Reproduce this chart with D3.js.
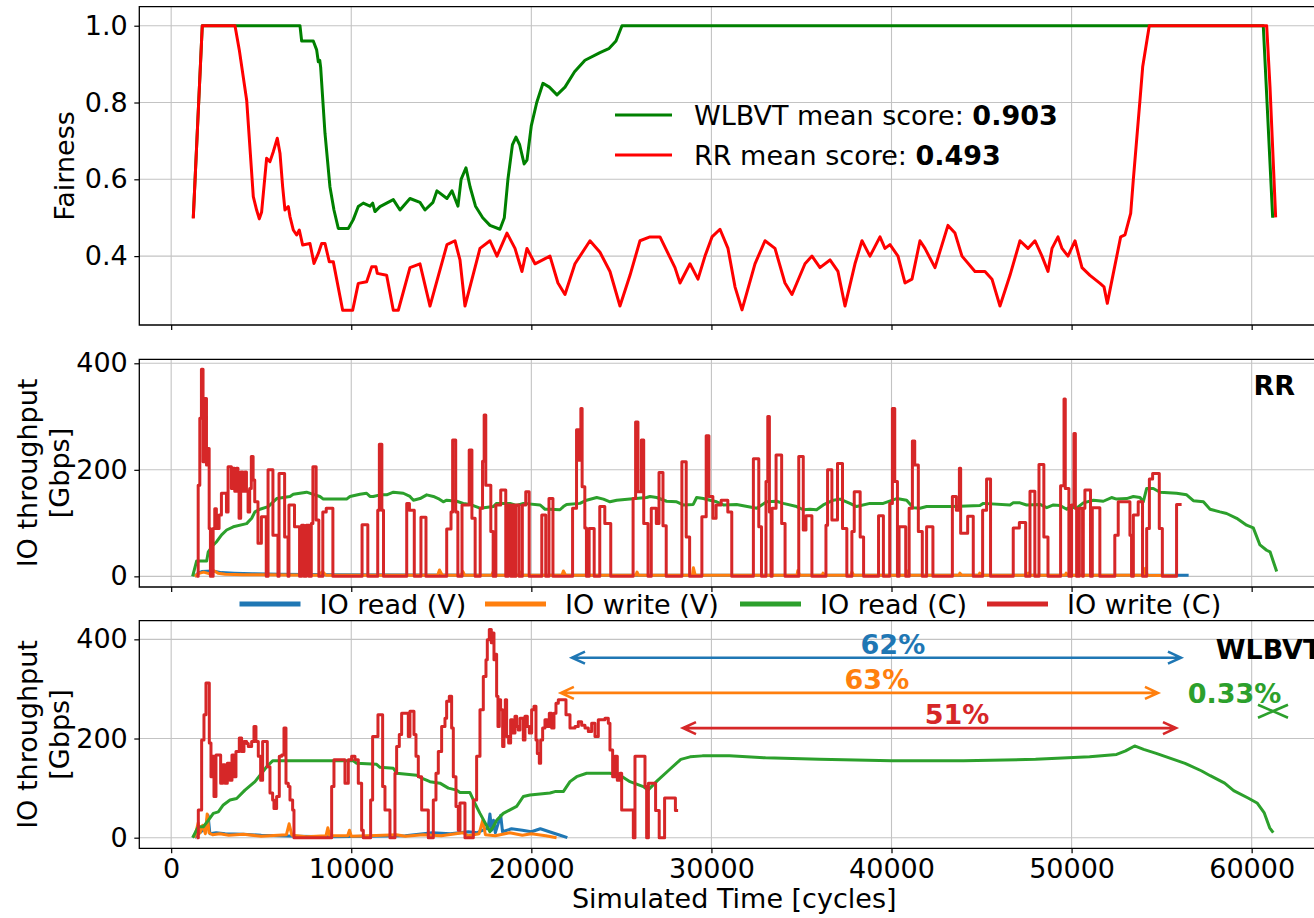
<!DOCTYPE html>
<html>
<head>
<meta charset="utf-8">
<script src="https://cdn.jsdelivr.net/npm/d3@7"></script>
<style>
  body { margin: 0; background: #fff; }
  svg { display: block; font-family: "DejaVu Sans", sans-serif; }
</style>
</head>
<body>
<div id="container"></div>
<script>
// ---------- data ----------
const xTicks = [0, 10000, 20000, 30000, 40000, 50000, 60000];
const fairTicks = [0.4, 0.6, 0.8, 1.0];
const tputTicks = [0, 200, 400];

const fairLabels = ["WLBVT mean score: ", "RR mean score: "];
const fairScores = ["0.903", "0.493"];
const seriesNames = ["IO read (V)", "IO write (V)", "IO read (C)", "IO write (C)"];

// fairness, [cycle, score]
const fairWlbvt = [[1227,0.5],[1727,1.0],[7152,1.0],[7246,0.96],[7891,0.96],[8078,0.937],[8170,0.906],[8250,0.91],[8300,0.892],[8541,0.72],[8818,0.58],[9040,0.52],[9281,0.472],[9836,0.472],[10112,0.495],[10390,0.529],[10668,0.538],[11039,0.53],[11189,0.538],[11317,0.516],[11595,0.529],[11965,0.538],[12335,0.547],[12706,0.52],[13261,0.55],[13816,0.54],[14094,0.52],[14538,0.54],[14760,0.57],[15315,0.55],[15593,0.57],[15926,0.53],[16100,0.6],[16370,0.63],[16600,0.58],[16900,0.53],[17300,0.5],[17703,0.48],[18258,0.47],[18500,0.5],[18700,0.6],[18950,0.69],[19147,0.71],[19350,0.69],[19600,0.64],[19758,0.65],[20000,0.74],[20300,0.80],[20646,0.85],[21000,0.84],[21424,0.82],[21868,0.84],[22400,0.88],[22979,0.91],[23812,0.93],[24300,0.94],[24700,0.96],[25033,1.0],[60645,1.0],[61167,0.5]];

const fairRr = [[1227,0.498],[1727,1.0],[3544,1.0],[3782,0.937],[4193,0.806],[4560,0.555],[4745,0.52],[4894,0.497],[5023,0.515],[5301,0.655],[5486,0.646],[5671,0.672],[5893,0.707],[6042,0.668],[6190,0.581],[6319,0.52],[6504,0.529],[6597,0.503],[6782,0.468],[6967,0.455],[7115,0.468],[7300,0.429],[7708,0.433],[7931,0.381],[8170,0.407],[8357,0.433],[8540,0.433],[8782,0.385],[9004,0.385],[9523,0.259],[10079,0.259],[10390,0.329],[10856,0.333],[11134,0.372],[11372,0.372],[11446,0.355],[11965,0.35],[12335,0.259],[12612,0.259],[13261,0.37],[13816,0.38],[14372,0.27],[15315,0.43],[15760,0.44],[16037,0.39],[16315,0.27],[17148,0.42],[17703,0.44],[18092,0.40],[18647,0.46],[19092,0.42],[19480,0.36],[19758,0.42],[20202,0.38],[21035,0.40],[21479,0.33],[21868,0.30],[22423,0.38],[23256,0.44],[23812,0.41],[24367,0.36],[24922,0.27],[25478,0.35],[26033,0.44],[26588,0.45],[27144,0.45],[27977,0.37],[28255,0.33],[28810,0.38],[29254,0.34],[29643,0.40],[30032,0.45],[30476,0.47],[30920,0.42],[31309,0.32],[31698,0.26],[32419,0.38],[32975,0.44],[33530,0.42],[34085,0.33],[34474,0.30],[35196,0.38],[35585,0.40],[36029,0.37],[36584,0.39],[37028,0.36],[37417,0.27],[37972,0.38],[38361,0.44],[38805,0.40],[39360,0.45],[39638,0.42],[39916,0.43],[40360,0.40],[40748,0.33],[41137,0.34],[41581,0.44],[41859,0.42],[42414,0.37],[43136,0.48],[43525,0.46],[43914,0.40],[44636,0.36],[45191,0.36],[45580,0.34],[46024,0.27],[46579,0.35],[47135,0.44],[47579,0.42],[47968,0.44],[48356,0.40],[48690,0.36],[48912,0.42],[49245,0.45],[49467,0.42],[49800,0.40],[50189,0.44],[50578,0.37],[51022,0.35],[51582,0.329],[51800,0.32],[51984,0.277],[52317,0.355],[52725,0.45],[52965,0.455],[53282,0.511],[53426,0.598],[53798,0.806],[53948,0.893],[54315,1.0],[60834,1.0],[61018,0.841],[61332,0.501]];

// RR throughput, [cycle, Gbps]
const rrReadV = [[1300,0],[1500,6],[1700,9],[2300,10],[2800,7],[3500,6],[4500,5],[6000,4],[9000,3],[20000,2],[40000,2],[56500,2]];
const rrWriteV = [[1300,0],[1500,5],[1800,8],[2100,5],[2400,10],[2600,6],[3000,4],[4000,3],[5000,3],[8200,2],[8400,9],[8600,2],[14800,2],[14900,12],[15050,2],[16100,2],[16200,9],[16300,2],[17800,2],[17900,10],[18000,2],[19300,2],[19400,8],[19500,2],[21700,2],[21780,10],[21900,2],[25800,2],[25870,8],[25950,2],[28950,2],[29000,16],[29100,2],[34750,2],[34800,11],[34900,2],[36150,2],[36200,6],[36300,2],[37750,2],[37800,8],[37900,2],[40850,2],[40900,10],[41000,2],[43750,2],[43800,6],[43900,2],[44850,2],[44900,6],[45000,2],[47550,2],[47600,6],[47700,2],[49650,2],[49700,6],[49800,2],[54050,2],[54100,15],[54200,2],[55800,1]];
const rrReadC = [[1190,0],[1415,29],[1970,29],[2060,46],[2340,59],[2525,65],[2800,78],[3080,87],[3450,93],[4190,99],[4470,109],[4650,121],[4930,126],[5390,131],[5580,137],[5860,146],[6600,150],[6780,154],[7520,158],[7890,154],[8260,150],[8450,145],[9740,145],[9930,150],[10480,154],[10850,156],[11040,150],[11220,150],[11600,153],[11970,153],[12340,158],[12890,156],[13260,150],[13450,143],[13820,146],[14190,153],[14560,150],[14830,146],[15110,140],[15300,143],[15850,141],[16220,137],[16590,135],[17150,128],[17890,131],[18070,137],[18810,137],[19180,133],[19560,137],[20480,134],[20760,126],[21035,126],[21590,125],[21780,131],[21960,135],[22700,137],[23070,143],[23630,148],[24000,145],[24370,140],[24740,143],[25480,145],[26400,148],[26590,150],[26960,148],[27510,141],[28070,140],[28440,134],[28990,135],[29180,148],[29550,146],[29920,143],[30290,140],[30660,134],[31400,135],[32510,128],[33070,140],[33620,141],[33990,137],[34730,131],[35100,125],[35470,126],[35840,125],[36210,134],[36770,143],[37140,145],[37690,137],[38060,131],[38800,137],[39540,137],[40290,146],[40840,143],[41210,129],[41580,128],[41950,131],[43430,131],[44910,133],[45100,137],[46580,134],[46760,138],[47130,138],[47500,134],[48250,135],[48620,129],[48990,134],[49360,133],[49730,126],[49910,131],[50280,128],[50650,138],[51210,143],[51760,141],[52220,148],[52500,145],[53060,146],[53430,150],[53800,148],[53980,140],[54170,165],[54540,165],[54910,158],[55830,156],[56390,153],[56760,142],[57320,140],[57690,126],[58240,121],[58610,118],[59170,109],[59720,96],[60090,91],[60460,59],[60830,49],[61020,46],[61390,9]];
const rrWriteC = [[1400,0],[1500,171],[1590,297],[1680,389],[1770,215],[1870,334],[1960,209],[2050,240],[2110,90],[2180,0],[2330,90],[2420,127],[2510,90],[2660,115],[2790,156],[3070,121],[3160,206],[3345,165],[3440,203],[3530,160],[3620,203],[3710,160],[3770,109],[3860,196],[3990,160],[4080,196],[4180,160],[4270,121],[4360,165],[4450,225],[4550,181],[4640,140],[4820,62],[5010,112],[5280,0],[5380,200],[5650,77],[5930,0],[5990,193],[6300,74],[6490,0],[6540,134],[6850,93],[7130,0],[7240,96],[7370,0],[7500,96],[7650,0],[7780,99],[7870,206],[8050,106],[8200,0],[8420,121],[8610,128],[8980,0],[10600,97],[10920,0],[11470,124],[11560,248],[11700,124],[11790,0],[13080,137],[13230,124],[13500,0],[13870,111],[14150,0],[15300,89],[15540,121],[15630,256],[15800,121],[15920,0],[16150,134],[16550,237],[16700,109],[16880,0],[17160,128],[17290,216],[17380,303],[17470,171],[17750,84],[17880,0],[18030,134],[18300,162],[18580,0],[18710,134],[18860,0],[18950,134],[19040,0],[19140,134],[19320,0],[19500,134],[19690,159],[19880,0],[20580,115],[20800,0],[20980,146],[21200,0],[22290,128],[22510,275],[22650,218],[22750,315],[22820,168],[22970,91],[23060,0],[23210,90],[23490,0],[23800,131],[24080,99],[24410,0],[25650,146],[25790,290],[25920,159],[26110,256],[26240,99],[26480,0],[26660,128],[26940,99],[27090,195],[27310,95],[27490,0],[28360,215],[28600,74],[28790,0],[29470,112],[29710,264],[29860,150],[30080,109],[30260,134],[30540,143],[30910,121],[31130,0],[32330,221],[32630,93],[32780,0],[33030,178],[33130,300],[33220,121],[33310,0],[33370,128],[33590,228],[33900,99],[34090,0],[34850,225],[35100,87],[35250,114],[35580,0],[36360,96],[36450,200],[36690,106],[37000,212],[37280,90],[37520,0],[37800,84],[37930,159],[38260,74],[38450,0],[39280,114],[39550,0],[39900,137],[40050,315],[40180,178],[40330,0],[40420,93],[40790,0],[40980,128],[41160,254],[41290,209],[41490,84],[41710,0],[41950,93],[42300,0],[43380,150],[43600,124],[43770,203],[43840,81],[44230,113],[44540,0],[45060,124],[45280,183],[45500,0],[46760,91],[47100,101],[47450,0],[47690,160],[47960,0],[48190,210],[48460,74],[48690,0],[49390,170],[49580,333],[49650,165],[49850,0],[50000,134],[50130,268],[50210,128],[50280,0],[50430,128],[50610,0],[50650,128],[50740,162],[51050,0],[51150,129],[51570,0],[52400,77],[52590,140],[53240,77],[53330,0],[53430,115],[53700,140],[53940,0],[54170,90],[54320,183],[54500,193],[54870,90],[55040,0],[55830,135],[56110,135]];

// WLBVT throughput, [cycle, Gbps]
const wlReadV = [[1300,0],[1600,10],[1900,20],[2050,45],[2150,8],[2500,10],[3000,8],[4000,7],[5000,5],[7000,3],[9000,2],[11000,3],[13000,4],[14500,10],[15500,8],[16500,12],[17000,10],[17600,20],[17700,48],[17800,15],[17900,35],[18000,10],[18300,45],[18400,12],[18900,18],[19500,15],[20000,12],[20500,18],[21000,12],[21600,5],[22000,0]];
const wlWriteV = [[1300,0],[1500,30],[1600,10],[1750,25],[1900,8],[2000,48],[2100,10],[2300,6],[2700,8],[3200,5],[4000,7],[5000,3],[6400,6],[6550,28],[6700,5],[7500,2],[8600,4],[8700,20],[8800,4],[9800,4],[9900,15],[10000,3],[11000,4],[12500,6],[13000,3],[14000,6],[15000,4],[16200,10],[16500,4],[17100,8],[17300,35],[17450,6],[18000,4],[18800,10],[19500,5],[20000,8],[20800,4],[21400,0]];
const wlReadC = [[1190,0],[1507,22],[1785,22],[2062,35],[2340,49],[2617,52],[2895,66],[3265,76],[3636,79],[4098,96],[4653,113],[5023,130],[5301,143],[5634,155],[10113,155],[10299,150],[11409,148],[11595,142],[12335,140],[12520,130],[13631,126],[13909,120],[14371,113],[14926,110],[15389,100],[15852,96],[16037,91],[16592,91],[16869,69],[17148,49],[17703,12],[17888,22],[18073,35],[18443,49],[18813,56],[19184,63],[19554,83],[19924,86],[21035,90],[21313,93],[21775,93],[22146,113],[22516,123],[23071,130],[24366,130],[24922,126],[25477,113],[26218,103],[26478,96],[27000,115],[27600,135],[28300,158],[28816,163],[29500,165],[31000,165],[33000,161],[36000,158],[40000,155],[44000,155],[48000,158],[51000,163],[52500,168],[53000,175],[53500,185],[54000,178],[54700,170],[55500,160],[56300,150],[57200,135],[57700,125],[58500,110],[59000,95],[59800,80],[60300,70],[60700,50],[61000,20],[61200,10]];
const wlWriteC = [[1414,0],[1507,56],[1692,197],[1821,248],[1932,312],[2080,312],[2117,191],[2210,123],[2302,164],[2377,83],[2488,167],[2710,167],[2747,110],[2858,147],[2988,110],[3117,150],[3265,116],[3376,167],[3487,123],[3598,174],[3783,201],[3913,174],[4042,194],[4191,190],[4283,184],[4468,194],[4598,224],[4709,194],[4838,164],[4968,116],[5079,194],[5264,194],[5338,143],[5486,90],[5634,76],[5708,59],[5856,83],[6004,164],[6134,167],[6264,221],[6375,110],[6504,103],[6597,76],[6745,56],[6819,0],[8911,103],[9040,157],[9651,110],[9836,157],[10021,164],[10206,157],[10391,110],[10576,15],[10669,0],[11076,76],[11187,204],[11483,248],[11743,103],[11872,56],[12150,0],[12427,130],[12520,184],[12668,208],[12798,251],[13168,204],[13260,255],[13483,208],[13594,164],[13723,123],[13909,56],[14279,0],[14556,76],[14704,130],[14834,174],[15019,224],[15204,241],[15297,275],[15445,285],[15574,221],[15667,123],[15815,63],[15944,15],[16037,70],[16315,0],[16777,76],[16962,164],[17148,258],[17333,325],[17481,359],[17555,399],[17666,420],[17777,393],[17851,413],[17925,359],[17999,370],[18073,285],[18147,224],[18221,278],[18295,258],[18406,184],[18480,224],[18554,278],[18628,204],[18739,191],[18850,238],[18961,211],[19091,245],[19184,224],[19276,217],[19369,241],[19554,197],[19647,245],[19777,224],[19888,211],[20017,258],[20147,265],[20258,197],[20332,170],[20443,150],[20517,197],[20628,221],[20757,238],[20887,224],[20998,251],[21128,221],[21257,251],[21368,271],[21498,278],[21924,248],[22146,221],[22424,224],[22609,234],[22794,227],[22979,221],[23164,214],[23349,231],[23534,204],[23719,238],[24089,241],[24274,231],[24366,177],[24515,123],[24644,164],[24774,116],[24922,130],[25015,56],[25663,0],[25755,164],[26311,103],[26403,0],[26500,110],[26900,55],[27100,0],[27400,80],[28000,55],[28150,55]];

// gain annotations in the WLBVT panel
const gainText = ["62%", "63%", "51%"];
const gainFrom = [22257, 21640, 28421];
const gainTo = [56074, 54797, 55797];
const gainLevel = [363, 292, 221];
const gainTextX = [40078, 39189, 43636];
const gainTextY = [371, 300, 230];

// ---------- layout ----------
const W = 1314, H = 918;
const colors = { blue: "#1f77b4", orange: "#ff7f0e", green: "#2ca02c", red: "#d62728" };
const fs = 27;

const svg = d3.select("#container").append("svg")
  .attr("width", W).attr("height", H)
  .attr("viewBox", `0 0 ${W} ${H}`);

// shared x scale (right part of the axes is cut off by the figure edge)
const x = d3.scaleLinear().domain([-1770, 64300]).range([139.3, 1329.1]);

const panels = [
  { id: "fair", y: d3.scaleLinear().domain([0.2206, 1.0495]).range([325, 6.7]), ticks: fairTicks, fmt: d3.format(".1f") },
  { id: "rr", y: d3.scaleLinear().domain([-20, 407.5]).range([587, 359.3]), ticks: tputTicks, fmt: d3.format("d") },
  { id: "wl", y: d3.scaleLinear().domain([-21.4, 437.6]).range([848.3, 620.7]), ticks: tputTicks, fmt: d3.format("d") }
];

const x0 = x.range()[0], x1 = x.range()[1];

panels.forEach((p, i) => {
  const [yb, yt] = p.y.range();
  const g = svg.append("g").attr("id", p.id);
  p.g = g;

  svg.append("clipPath").attr("id", "clip-" + p.id)
    .append("rect").attr("x", x0).attr("y", yt).attr("width", x1 - x0).attr("height", yb - yt);

  // grid
  const grid = g.append("g").attr("stroke", "#b0b0b0").attr("stroke-width", 1.1).attr("opacity", 0.75);
  grid.selectAll(".gx").data(xTicks).join("line")
    .attr("x1", d => x(d)).attr("x2", d => x(d)).attr("y1", yt).attr("y2", yb);
  grid.selectAll(".gy").data(p.ticks).join("line")
    .attr("x1", x0).attr("x2", x1).attr("y1", d => p.y(d)).attr("y2", d => p.y(d));

  p.plot = g.append("g").attr("clip-path", `url(#clip-${p.id})`);

  // y axis
  const ya = g.append("g").attr("transform", `translate(${x0},0)`)
    .call(d3.axisLeft(p.y).tickValues(p.ticks).tickFormat(p.fmt).tickSize(5).tickPadding(6.5).tickSizeOuter(0));
  ya.select(".domain").remove();
  ya.selectAll("text").attr("font-size", fs).attr("font-family", "DejaVu Sans").attr("fill", "#000");
  ya.selectAll("line").attr("stroke", "#000").attr("stroke-width", 1.2);

  // x axis (labels only on the last panel)
  const xa = g.append("g").attr("transform", `translate(0,${yb})`)
    .call(d3.axisBottom(x).tickValues(xTicks).tickFormat(i === 2 ? d3.format("d") : "").tickSize(5).tickPadding(5.5).tickSizeOuter(0));
  xa.select(".domain").remove();
  xa.selectAll("text").attr("font-size", fs).attr("font-family", "DejaVu Sans").attr("fill", "#000");
  xa.selectAll("line").attr("stroke", "#000").attr("stroke-width", 1.2);

  p.frame = () => g.append("path")
    .attr("d", `M${W + 10},${yt}H${x0}V${yb}H${W + 10}`)
    .attr("fill", "none").attr("stroke", "#000").attr("stroke-width", 1.3);
});

const linePath = (p, curve) => d3.line().x(d => x(d[0])).y(d => p.y(d[1])).curve(curve || d3.curveLinear);

// ---------- fairness panel ----------
const pf = panels[0];
[[fairWlbvt, "#008000"], [fairRr, "#ff0000"]].forEach(([data, c]) => {
  pf.plot.append("path").datum(data).attr("d", linePath(pf))
    .attr("fill", "none").attr("stroke", c).attr("stroke-width", 3).attr("stroke-linejoin", "round");
});

const fl = pf.g.append("g");
["#008000", "#ff0000"].forEach((c, i) => {
  const yy = 115 + i * 40;
  fl.append("line").attr("x1", 615).attr("x2", 672).attr("y1", yy).attr("y2", yy)
    .attr("stroke", c).attr("stroke-width", 3);
  const t = fl.append("text").attr("x", 694).attr("y", yy + 9.5).attr("font-size", fs);
  t.append("tspan").text(fairLabels[i]);
  t.append("tspan").attr("font-weight", "bold").text(fairScores[i]);
});

// ---------- throughput panels ----------
const drawTput = (p, series) => {
  series.forEach(([data, c, curve]) => {
    p.plot.append("path").datum(data).attr("d", linePath(p, curve))
      .attr("fill", "none").attr("stroke", c).attr("stroke-width", 3).attr("stroke-linejoin", "round");
  });
};
drawTput(panels[1], [[rrReadV, colors.blue], [rrWriteV, colors.orange], [rrReadC, colors.green], [rrWriteC, colors.red, d3.curveStepAfter]]);
drawTput(panels[2], [[wlReadV, colors.blue], [wlWriteV, colors.orange], [wlReadC, colors.green], [wlWriteC, colors.red, d3.curveStepAfter]]);

panels[1].g.append("text").attr("x", x(60100)).attr("y", panels[1].y(340))
  .attr("font-size", fs).attr("font-weight", "bold").text("RR");
panels[2].g.append("text").attr("x", x(58000)).attr("y", panels[2].y(361))
  .attr("font-size", fs).attr("font-weight", "bold").text("WLBVT");

// gain arrows
const pw = panels[2];
const gainColors = [colors.blue, colors.orange, colors.red];
gainText.forEach((t, i) => {
  const a = x(gainFrom[i]), b = x(gainTo[i]), yy = pw.y(gainLevel[i]);
  const c = gainColors[i];
  pw.g.append("path")
    .attr("d", `M${a},${yy}H${b}M${a + 13},${yy - 6}L${a},${yy}L${a + 13},${yy + 6}M${b - 13},${yy - 6}L${b},${yy}L${b - 13},${yy + 6}`)
    .attr("fill", "none").attr("stroke", c).attr("stroke-width", 2.6);
  pw.g.append("text").attr("x", x(gainTextX[i])).attr("y", pw.y(gainTextY[i]))
    .attr("text-anchor", "middle").attr("font-size", fs).attr("font-weight", "bold")
    .attr("fill", c).text(t);
});
pw.g.append("text").attr("x", x(59045)).attr("y", pw.y(272))
  .attr("text-anchor", "middle").attr("font-size", fs).attr("font-weight", "bold")
  .attr("fill", colors.green).text("0.33%");
{
  const cx = x(61184), cy = pw.y(255);
  pw.g.append("path")
    .attr("d", `M${cx - 15},${cy - 6.5}L${cx},${cy}L${cx - 15},${cy + 6.5}M${cx + 15},${cy - 6.5}L${cx},${cy}L${cx + 15},${cy + 6.5}M${cx - 3},${cy}H${cx + 3}`)
    .attr("fill", "none").attr("stroke", colors.green).attr("stroke-width", 2.6);
}

panels.forEach(p => p.frame());

// ---------- legend between the throughput panels ----------
const legX = [239.5, 485, 740, 987];
const legColors = [colors.blue, colors.orange, colors.green, colors.red];
const leg = svg.append("g");
seriesNames.forEach((n, i) => {
  leg.append("line").attr("x1", legX[i]).attr("x2", legX[i] + 61).attr("y1", 604).attr("y2", 604)
    .attr("stroke", legColors[i]).attr("stroke-width", 5);
  leg.append("text").attr("x", legX[i] + 80).attr("y", 613.5).attr("font-size", fs).text(n);
});

// ---------- axis titles ----------
svg.append("text").attr("x", (x0 + x1) / 2).attr("y", 908).attr("text-anchor", "middle")
  .attr("font-size", fs).text("Simulated Time [cycles]");

const yTitle = (cx, cy, lines) => {
  const t = svg.append("text").attr("transform", `translate(${cx},${cy}) rotate(-90)`)
    .attr("text-anchor", "middle").attr("font-size", fs);
  lines.forEach((l, k) => t.append("tspan").attr("x", 0).attr("y", (k - (lines.length - 1) / 2) * 31.5 + 9.5).text(l));
};
yTitle(64, 166, ["Fairness"]);
yTitle(43.5, 473, ["IO throughput", "[Gbps]"]);
yTitle(43.5, 734.5, ["IO throughput", "[Gbps]"]);
</script>
</body>
</html>
